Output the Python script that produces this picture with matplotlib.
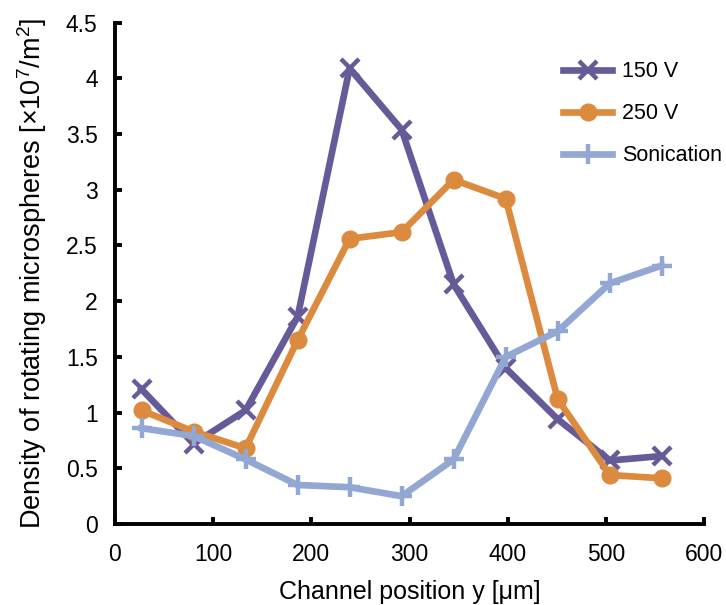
import matplotlib
matplotlib.use("Agg")
import matplotlib.pyplot as plt
from matplotlib.ticker import FuncFormatter

plt.rcParams["font.family"] = ["Liberation Sans", "DejaVu Sans"]
plt.rcParams["mathtext.fontset"] = "custom"
plt.rcParams["mathtext.rm"] = "Liberation Sans"

# channel positions [um]
positions = [27, 80, 133, 186, 239, 292, 345, 398, 451, 504, 557]

v150 = [1.21, 0.72, 1.02, 1.86, 4.09, 3.54, 2.15, 1.40, 0.94, 0.57, 0.61]
v250 = [1.02, 0.83, 0.68, 1.65, 2.56, 2.62, 3.09, 2.92, 1.12, 0.44, 0.41]
sonication = [0.86, 0.79, 0.58, 0.35, 0.33, 0.25, 0.58, 1.50, 1.73, 2.16, 2.32]

series_names = ["150 V", "250 V", "Sonication"]

fig = plt.figure(figsize=(7.26, 6.05), dpi=100)
ax = fig.add_axes([0.1584, 0.1339, 0.8113, 0.8286])

ax.plot(positions, v150, color="#665a98", lw=4.8, marker="x", ms=13, mew=3.2,
        label=series_names[0])
ax.plot(positions, v250, color="#dc8b3e", lw=4.8, marker="o", ms=12,
        label=series_names[1])
ax.plot(positions, sonication, color="#93a7d3", lw=4.8, marker="+", ms=15, mew=3.2,
        label=series_names[2])

ax.set_xlim(0, 600)
ax.set_ylim(0, 4.5)
ax.set_xticks(range(0, 601, 100))
ax.set_yticks([i * 0.5 for i in range(10)])
ax.yaxis.set_major_formatter(FuncFormatter(lambda v, p: "%g" % v))

for s in ["top", "right"]:
    ax.spines[s].set_visible(False)
for s in ["left", "bottom"]:
    ax.spines[s].set_linewidth(2.8)
ax.tick_params(direction="in", length=5, width=2.8, labelsize=16.5)
ax.tick_params(axis="y", pad=12.5)
ax.tick_params(axis="x", pad=14)

ax.set_xlabel("Channel position y [\u03bcm]", fontsize=18, labelpad=10)
ax.set_ylabel("Density of rotating microspheres [\u00d710$\\mathregular{^7}$/m$\\mathregular{^2}$]",
              fontsize=19.5, labelpad=12)

ax.legend(loc="upper left", bbox_to_anchor=(563 / 726, 0.899),
          bbox_transform=fig.transFigure, frameon=False, borderpad=0,
          borderaxespad=0, fontsize=15.5, handlelength=2.28,
          labelspacing=0.98, handletextpad=0.45)

fig.savefig("out.png", dpi=100)
